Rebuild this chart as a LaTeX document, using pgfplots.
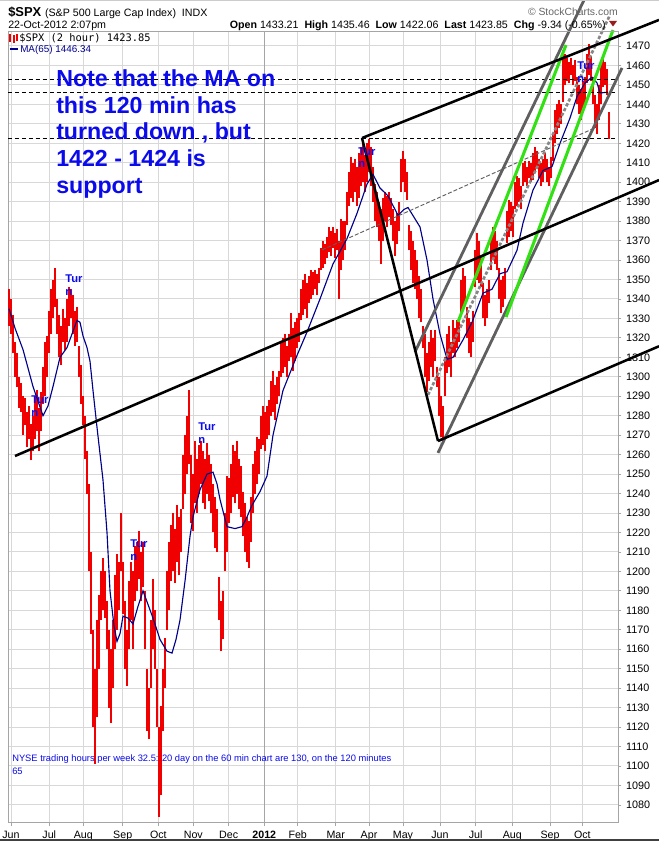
\documentclass[border=0pt]{standalone}
\usepackage{fontspec}
\setmainfont{Liberation Sans}
\newfontfamily\monofont{DejaVu Sans Mono}
\usepackage{pgfplots}
\pgfplotsset{compat=1.18}
\usepackage{pgfplotstable}
\definecolor{pricered}{RGB}{240,0,0}
\definecolor{manavy}{RGB}{0,0,140}
\definecolor{noteblue}{RGB}{10,10,235}
\definecolor{trendgray}{RGB}{95,95,95}
\definecolor{dashgray}{RGB}{135,135,135}
\definecolor{trendgreen}{RGB}{50,225,20}
\definecolor{gridgray}{RGB}{216,216,216}
\definecolor{axisgray}{RGB}{165,165,165}
\definecolor{darkred}{RGB}{150,30,30}

\pgfplotstableread{
x lo hi
9 1326 1345
11 1322 1340
13 1312 1332
15 1300 1318
17 1295 1312
19 1284 1300
21 1282 1297
23 1270 1290
25 1275 1289
27 1264 1282
29 1268 1285
31 1257 1276
33 1262 1280
35 1268 1290
37 1272 1293
39 1262 1284
41 1272 1292
43 1286 1305
45 1290 1318
47 1300 1321
49 1312 1334
51 1322 1345
53 1330 1350
55 1336 1356
57 1322 1340
59 1310 1332
61 1306 1326
63 1318 1335
65 1314 1330
67 1318 1340
69 1326 1346
71 1330 1345
73 1322 1342
75 1316 1334
77 1318 1336
79 1300 1316
81 1286 1306
83 1275 1290
85 1258 1280
87 1240 1262
89 1200 1245
91 1168 1210
93 1120 1170
95 1101 1150
97 1125 1175
99 1150 1188
101 1175 1200
103 1180 1207
105 1176 1200
107 1160 1185
109 1130 1170
111 1122 1160
113 1140 1175
115 1160 1198
117 1170 1209
119 1180 1205
121 1200 1230
123 1178 1205
125 1150 1185
127 1141 1170
129 1160 1195
131 1175 1205
133 1160 1200
135 1185 1213
137 1190 1215
139 1196 1221
141 1185 1210
143 1192 1215
145 1160 1190
147 1118 1150
149 1114 1140
151 1140 1175
153 1160 1196
155 1150 1180
157 1120 1150
159 1074 1120
161 1085 1131
163 1118 1150
165 1140 1166
167 1170 1200
169 1180 1215
171 1195 1224
173 1200 1230
175 1194 1222
177 1205 1234
179 1198 1228
181 1210 1232
183 1232 1260
185 1240 1270
187 1250 1280
189 1255 1293
191 1225 1260
193 1221 1250
195 1235 1267
197 1230 1258
199 1240 1265
201 1245 1267
203 1235 1262
205 1232 1258
207 1240 1266
209 1236 1260
211 1230 1255
213 1220 1245
215 1212 1238
217 1210 1232
219 1175 1197
221 1159 1185
223 1165 1190
225 1200 1230
227 1210 1249
229 1225 1248
231 1230 1255
233 1238 1265
235 1235 1262
237 1240 1267
239 1232 1258
241 1228 1254
243 1218 1241
245 1210 1235
247 1205 1228
249 1202 1226
251 1215 1238
253 1230 1255
255 1240 1262
257 1245 1269
259 1250 1268
261 1263 1280
263 1265 1285
265 1262 1282
267 1268 1285
269 1270 1288
271 1280 1298
273 1282 1303
275 1278 1296
277 1286 1300
279 1290 1303
281 1300 1318
283 1302 1320
285 1305 1322
287 1300 1316
289 1308 1322
291 1310 1333
293 1303 1325
295 1308 1328
297 1315 1330
299 1318 1333
301 1329 1345
303 1332 1350
305 1335 1353
307 1330 1348
309 1338 1352
311 1340 1355
313 1342 1354
315 1345 1355
317 1342 1353
319 1348 1356
321 1355 1366
323 1356 1370
325 1358 1368
327 1361 1372
329 1364 1377
331 1362 1375
333 1366 1377
335 1361 1374
337 1365 1376
339 1340 1370
341 1355 1381
343 1360 1380
345 1365 1380
347 1378 1395
349 1388 1405
351 1392 1413
353 1390 1410
355 1395 1412
357 1388 1408
359 1392 1415
361 1398 1418
363 1400 1421
365 1395 1414
367 1400 1420
369 1405 1422
371 1398 1418
373 1390 1408
375 1380 1399
377 1377 1395
379 1370 1390
381 1358 1386
383 1370 1392
385 1380 1395
387 1377 1393
389 1382 1395
391 1378 1392
393 1370 1386
395 1362 1380
397 1368 1384
399 1375 1390
401 1395 1412
403 1400 1416
405 1395 1412
407 1391 1405
409 1365 1378
411 1355 1375
413 1348 1370
415 1345 1365
417 1340 1360
419 1330 1352
421 1328 1345
423 1315 1326
425 1300 1322
427 1292 1312
429 1298 1318
431 1305 1324
433 1300 1320
435 1308 1324
437 1295 1305
439 1280 1300
441 1269 1290
443 1267 1285
445 1290 1310
447 1302 1322
449 1305 1326
451 1300 1318
453 1312 1329
455 1310 1325
457 1315 1329
459 1318 1330
461 1333 1350
463 1335 1356
465 1338 1352
467 1320 1336
469 1312 1330
471 1310 1328
473 1318 1334
475 1346 1365
477 1350 1374
479 1348 1370
481 1346 1362
483 1330 1348
485 1326 1342
487 1330 1345
489 1338 1350
491 1355 1372
493 1360 1377
495 1358 1375
497 1355 1370
499 1340 1356
501 1333 1350
503 1336 1352
505 1340 1356
507 1369 1385
509 1372 1391
511 1375 1390
513 1372 1388
515 1386 1400
517 1388 1403
519 1390 1402
521 1386 1398
523 1398 1410
525 1400 1411
527 1398 1408
529 1402 1411
531 1400 1410
533 1401 1415
535 1405 1418
537 1408 1416
539 1402 1412
541 1398 1410
543 1400 1412
545 1405 1415
547 1400 1412
549 1398 1408
551 1402 1413
553 1411 1425
555 1420 1437
557 1425 1440
559 1428 1442
561 1430 1440
563 1441 1468
565 1450 1466
567 1452 1464
569 1451 1462
571 1455 1464
573 1450 1460
575 1452 1463
577 1440 1454
579 1435 1450
581 1432 1448
583 1438 1452
585 1440 1454
587 1451 1466
589 1455 1471
591 1452 1465
593 1440 1454
595 1428 1445
597 1425 1440
599 1432 1450
601 1440 1463
603 1449 1465
605 1450 1462
607 1445 1458
609 1422 1436
}\pricetable

\begin{document}
\begin{tikzpicture}
\begin{axis}[
  at={(0,0)}, anchor=south west, scale only axis,
  width=457.5pt, height=593.25pt,
  xmin=8, xmax=618, ymin=1070.7, ymax=1477.2,
  clip=false,
  axis line style={axisgray, line width=0.75pt},
  xtick={11,49.3,83.3,122.7,158.3,193.3,228.7,264.3,297.7,335.7,369,403,440,475.7,512.3,550,582.3},
  xticklabels={Jun,Jul,Aug,Sep,Oct,Nov,Dec,{\bfseries 2012},Feb,Mar,Apr,May,Jun,Jul,Aug,Sep,Oct},
  ytick={1080,1090,...,1470},
  xtick pos=left, ytick pos=right, yticklabel pos=right,
  tick align=outside, major tick length=2.5pt,
  tick style={axisgray, line width=0.6pt},
  grid=major, major grid style={gridgray, line width=0.75pt},
  /pgf/number format/assume math mode=true,
  /pgf/number format/set thousands separator={},
  /pgf/number format/fixed,
  yticklabel style={font=\fontsize{8.1}{9}\selectfont, anchor=west},
  xticklabel style={font=\fontsize{8}{9}\selectfont},
]
% darker grid line at year start
\addplot[axisgray, line width=0.75pt, forget plot] coordinates {(264.3,1070.7) (264.3,1477.2)};

% price bars
\addplot[draw=none, no markers, forget plot,
  error bars/.cd, y dir=plus, y explicit, error mark=none,
  error bar style={draw=pricered, line width=1.25pt}]
  table[x=x, y=lo, y error expr=\thisrow{hi}-\thisrow{lo}] {\pricetable};

% MA(65)
\addplot[manavy, line width=0.85pt] coordinates {
(9,1335) (15,1325) (23,1314) (33,1295) (43,1280) (48,1285) (53,1295) (60,1310)
(67,1315) (72,1322) (77,1329) (80,1328) (83,1321) (87,1315) (90,1308) (93,1293)
(97,1274) (103,1247) (107,1220) (110,1190) (114,1172) (117,1164) (120,1168)
(123,1177) (128,1176) (133,1173) (138,1182) (143,1190) (148,1183) (153,1176)
(160,1165) (167,1159) (172,1158) (176,1165) (180,1175) (185,1195) (190,1218)
(193,1228) (200,1242) (207,1250) (213,1251) (217,1245) (220,1237) (227,1223)
(235,1222) (242,1223) (247,1228) (252,1234) (260,1241) (267,1249) (273,1270)
(283,1293) (297,1311) (307,1323) (320,1340) (333,1358) (347,1371) (357,1384)
(367,1399) (373,1404) (380,1397) (388,1393) (398,1383) (404,1386) (408,1387)
(414,1382) (420,1377) (427,1360) (433,1340) (440,1322) (447,1309) (453,1310)
(463,1319) (472,1328) (483,1343) (492,1345) (500,1353) (507,1354) (517,1365)
(523,1379) (533,1396) (543,1406) (552,1408) (560,1420) (570,1433) (577,1444)
(585,1451) (592,1454) (597,1451) (600,1446) (603,1446) (608,1446.3)};

% horizontal dashed levels
\addplot[black, line width=0.7pt, dash pattern=on 3pt off 2.2pt] coordinates {(8,1453) (618,1453)};
\addplot[black, line width=0.7pt, dash pattern=on 3pt off 2.2pt] coordinates {(8,1446) (618,1446)};
\addplot[black, line width=0.7pt, dash pattern=on 3pt off 2.2pt] coordinates {(8,1422.5) (618,1422.5)};

% thin dashed gray trend
\addplot[trendgray, line width=0.7pt, dash pattern=on 3pt off 1.5pt] coordinates {(322,1365.2) (597,1428.4)};

% steep channel
\addplot[trendgray, line width=2.1pt] coordinates {(415,1312.8) (584,1493.6)};
\addplot[trendgray, line width=2.1pt] coordinates {(438,1260.9) (622,1458.7)};
\addplot[dashgray, line width=2pt, dash pattern=on 2.5pt off 1.5pt] coordinates {(428,1290.7) (610,1485.9)};
\addplot[trendgreen, line width=2.3pt] coordinates {(458,1328.2) (566,1470.5)};
\addplot[trendgreen, line width=2.3pt] coordinates {(506,1330.7) (613,1478.2)};

% black trend lines
\addplot[black, line width=1.9pt] coordinates {(15,1259.3) (659,1401.1)};
\addplot[black, line width=1.9pt] coordinates {(438,1267.0) (659,1315.7)};
\addplot[black, line width=1.9pt] coordinates {(362,1422.7) (659,1483.4)};
\addplot[black, line width=1.9pt] coordinates {(362,1422.7) (438,1267.0)};
\end{axis}

\begin{scope}[x=0.75pt, y=-0.75pt, shift={(-6pt,617.25pt)}]
  % frame lines
  \draw[gray!40, line width=0.75pt] (0,0.5) -- (659,0.5);
  \draw[black!75, line width=1.5pt] (0,840) -- (659,840);
  \draw[axisgray, line width=0.75pt] (8,32) -- (618,32);
  % header
  \node[anchor=base west, inner sep=0] at (8,17) {{\bfseries\fontsize{9.7}{11}\selectfont \$SPX} {\fontsize{8}{9}\selectfont (S\&P 500 Large Cap Index)\ \ INDX}};
  \node[anchor=base west, inner sep=0, font=\fontsize{8}{9}\selectfont] at (8,28.5) {22-Oct-2012 2:07pm};
  \node[anchor=base east, inner sep=0, font=\fontsize{8}{9}\selectfont] at (606,28.5)
    {\textbf{Open} 1433.21\ \ \textbf{High} 1435.46\ \ \textbf{Low} 1422.06\ \ \textbf{Last} 1423.85\ \ \textbf{Chg} -9.34 (-0.65\%)};
  \node[anchor=base east, inner sep=0, text=black!60, font=\fontsize{7.8}{9}\selectfont] at (618,15.5) {\textcopyright\ StockCharts.com};
  \fill[darkred] (609,21) -- (617,21) -- (613,26.5) -- cycle;
  % legend
  \draw[pricered, line width=1pt] (10,34) -- (10,42) (9,36) -- (11,36) (14,35) -- (14,43) (13,38) -- (15,38) (17,34) -- (17,41);
  \node[anchor=base west, inner sep=0, font=\monofont\fontsize{7.8}{9}\selectfont] at (19,42) {\$SPX (2 hour) 1423.85};
  \draw[manavy, line width=1.5pt] (10,49) -- (18,49);
  \node[anchor=base west, inner sep=0, text=manavy, font=\fontsize{7.4}{9}\selectfont] at (20,53) {MA(65) 1446.34};
  % note
  \begin{scope}[every node/.style={anchor=base west, inner sep=0, text=noteblue, font=\bfseries\fontsize{17.4}{20}\selectfont}]
    \node at (56,86.5) {Note that the MA on};
    \node at (56,113.2) {this 120 min has};
    \node at (56,140) {turned down , but};
    \node at (56,166.8) {1422 - 1424 is};
    \node at (56,193.5) {support};
  \end{scope}
  % Turn labels
  \begin{scope}[every node/.style={anchor=base west, inner sep=0, text=noteblue, font=\bfseries\fontsize{8.4}{9}\selectfont}]
    \node at (65,283) {Tur}; \node at (65,296) {n};
    \node at (31,404) {Tur}; \node at (31,416.5) {n};
    \node at (130,548) {Tur}; \node at (130,560.5) {n};
    \node at (198,431) {Tur}; \node at (198,443.5) {n};
    \node at (358,156) {Tur}; \node at (358,168) {n};
    \node at (577,70) {Tur}; \node at (577,83) {n};
  \end{scope}
  % bottom note
  \node[anchor=base west, inner sep=0, text=noteblue, font=\fontsize{7}{8}\selectfont] at (12,762) {NYSE trading hours per week 32.5: 20 day on the 60 min chart are 130, on the 120 minutes};
  \node[anchor=base west, inner sep=0, text=noteblue, font=\fontsize{7}{8}\selectfont] at (12,775) {65};
  \pgfresetboundingbox
  \path[use as bounding box] (0,0) rectangle (659,841);
\end{scope}
\end{tikzpicture}
\end{document}
